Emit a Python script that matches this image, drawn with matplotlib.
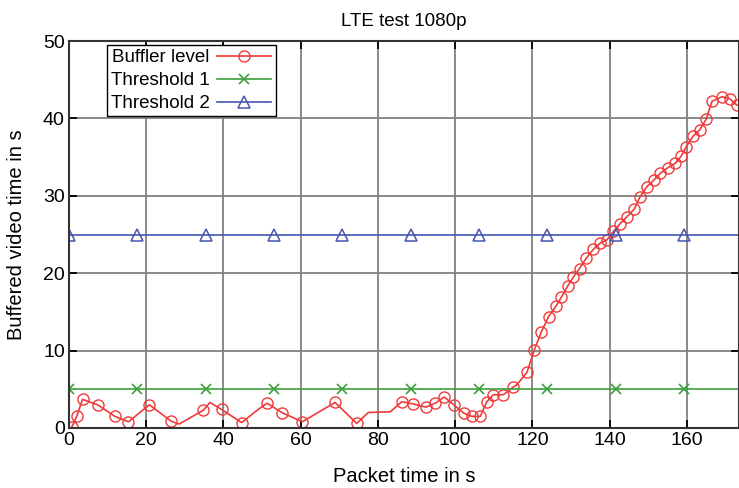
import numpy as np
import matplotlib
matplotlib.use("Agg")
import matplotlib.pyplot as plt

plt.rcParams['font.family'] = ['Liberation Sans', 'DejaVu Sans']

# buffer level samples (packet time in s, buffered video in s)
buf_t = [0.7, 2.0, 3.5, 7.4, 11.9, 15.4, 20.8, 26.4, 28.5, 34.8, 36.5, 39.5,
         44.7, 49.0, 51.3, 55.1, 60.4, 68.9, 74.5, 77.5, 83.2, 86.2, 89.2,
         92.5, 94.8, 97.2, 99.6, 102.3, 104.3, 106.5, 108.2, 109.9, 112.5,
         115.1, 116.0, 118.6, 120.5, 122.3, 124.2, 126.2, 127.5, 129.1, 130.6,
         132.2, 133.9, 135.8, 137.6, 139.3, 141.0, 142.7, 144.5, 146.4, 147.9,
         149.7, 151.6, 153.1, 155.0, 157.0, 158.5, 159.8, 161.6, 163.3, 165.0,
         166.5, 169.1, 171.2, 173.0]
buf_v = [0.1, 1.5, 3.7, 3.0, 1.5, 0.8, 3.0, 0.9, 0.5, 2.3, 3.3, 2.4,
         0.7, 2.4, 3.2, 2.0, 0.8, 3.3, 0.6, 2.0, 2.1, 3.4, 3.1,
         2.7, 3.2, 4.0, 3.0, 1.9, 1.5, 1.5, 3.4, 4.3, 4.3,
         5.3, 5.6, 7.2, 10.1, 12.4, 14.4, 15.8, 16.9, 18.3, 19.5,
         20.6, 21.9, 23.1, 23.9, 24.3, 25.4, 26.4, 27.3, 28.3, 29.9,
         31.2, 32.1, 32.9, 33.6, 34.2, 35.1, 36.3, 37.7, 38.5, 39.9,
         42.2, 42.8, 42.5, 41.7]
# samples drawn without a marker
no_mark = [8, 10, 13, 19, 20, 34]

thr_t = [0, 17.7, 35.4, 53.1, 70.8, 88.5, 106.2, 123.9, 141.6, 159.3, 177]
thr1 = 5
thr2 = 25

red = '#f03a3a'
green = '#3c9f3c'
blue = '#4656b0'

fig = plt.figure(figsize=(7.39, 4.88), dpi=100)
ax = fig.add_axes([69/739, 60/488, 670/739, 387/488])

marks = [i for i in range(len(buf_t)) if i not in no_mark]
ax.plot(buf_t, buf_v, color=red, lw=1.2, marker='o', ms=8, mfc='none',
        mew=1.0, markevery=marks, label='Buffler level')
ax.plot(thr_t, [thr1]*len(thr_t), color=green, lw=1.2, marker='x', ms=7,
        mew=1.2, label='Threshold 1')
ax.plot(thr_t, [thr2]*len(thr_t), color=blue, lw=1.2, marker='^', ms=8,
        mfc='none', mew=1.1, label='Threshold 2')

ax.set_xlim(0, 173.5)
ax.set_ylim(0, 50)
ax.set_xticks(range(0, 161, 20))
ax.set_yticks(range(0, 51, 10))
ax.grid(True, color='#808080', lw=1.3)
ax.set_axisbelow(True)
ax.tick_params(direction='in', top=True, right=True, labelsize=14, length=6,
               width=1.3, pad=3)
for s in ax.spines.values():
    s.set_linewidth(1.5)
    s.set_color('#333333')

ax.set_title('LTE test 1080p', fontsize=13.5, pad=11)
ax.set_xlabel('Packet time in s', fontsize=14.5, labelpad=12.5)
ax.set_ylabel('Buffered video time in s', fontsize=14.5, labelpad=12)

leg = ax.legend(loc='upper left', bbox_to_anchor=(0.056, 0.99), markerfirst=False,
                fontsize=13.5, fancybox=False, edgecolor='black', framealpha=1,
                handlelength=2.9, borderpad=0.22, labelspacing=0.32,
                handletextpad=0.4, borderaxespad=0)
leg.get_frame().set_linewidth(1.0)
for t in leg.get_texts():
    t.set_ha('right')

fig.savefig('out.png', dpi=100)
